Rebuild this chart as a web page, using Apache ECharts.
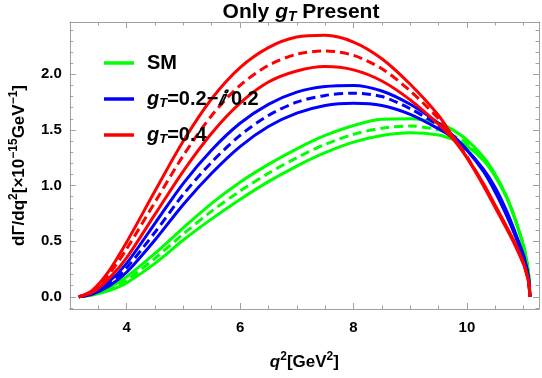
<!DOCTYPE html>
<html>
<head>
<meta charset="utf-8">
<title>Only gT Present</title>
<script src="https://cdn.jsdelivr.net/npm/echarts@6.0.0/dist/echarts.min.js"></script>
<style>
  html, body { margin: 0; padding: 0; background: #fff; }
  #chart { width: 542px; height: 378px; }
</style>
</head>
<body>
<div id="chart"></div>
<script>
// q^2 sample points (GeV^2)
const q2 = [3.157, 3.4, 3.7, 4.0, 4.5, 5.0, 5.5, 6.0, 6.5, 7.0, 7.5, 8.0, 8.5, 9.0, 9.5, 9.75, 10.0, 10.3, 10.5, 10.7, 10.85, 11.0, 11.06, 11.09, 11.11];

// SM band (green): upper, central (dashed), lower
const smUpper = [0, 0.022, 0.085, 0.18, 0.39, 0.62, 0.84, 1.03, 1.19, 1.33, 1.45, 1.54, 1.595, 1.60, 1.56, 1.50, 1.41, 1.25, 1.10, 0.90, 0.70, 0.45, 0.30, 0.19, 0];
const smMid   = [0, 0.019, 0.07, 0.15, 0.345, 0.565, 0.77, 0.95, 1.11, 1.25, 1.37, 1.46, 1.515, 1.535, 1.50, 1.45, 1.38, 1.235, 1.09, 0.895, 0.70, 0.45, 0.30, 0.19, 0];
const smLower = [0, 0.015, 0.057, 0.125, 0.30, 0.51, 0.70, 0.875, 1.035, 1.175, 1.295, 1.39, 1.45, 1.475, 1.455, 1.415, 1.355, 1.22, 1.08, 0.89, 0.69, 0.45, 0.30, 0.19, 0];

// gT = 0.2 - 0.2i (blue)
const cplxUpper = [0, 0.035, 0.14, 0.30, 0.66, 1.02, 1.32, 1.56, 1.73, 1.84, 1.89, 1.90, 1.85, 1.73, 1.56, 1.45, 1.32, 1.12, 0.94, 0.73, 0.55, 0.35, 0.24, 0.15, 0];
const cplxMid   = [0, 0.03, 0.12, 0.26, 0.58, 0.92, 1.21, 1.45, 1.63, 1.75, 1.81, 1.83, 1.80, 1.69, 1.54, 1.44, 1.32, 1.13, 0.95, 0.74, 0.56, 0.36, 0.24, 0.15, 0];
const cplxLower = [0, 0.025, 0.10, 0.22, 0.51, 0.83, 1.11, 1.35, 1.53, 1.65, 1.72, 1.74, 1.72, 1.64, 1.51, 1.43, 1.32, 1.14, 0.98, 0.77, 0.58, 0.37, 0.24, 0.15, 0];

// gT = 0.4 (red)
const realUpper = [0, 0.06, 0.24, 0.49, 0.95, 1.40, 1.78, 2.06, 2.24, 2.335, 2.35, 2.29, 2.14, 1.91, 1.63, 1.44, 1.25, 0.99, 0.80, 0.61, 0.46, 0.29, 0.19, 0.12, 0];
const realMid   = [0, 0.05, 0.21, 0.43, 0.85, 1.27, 1.63, 1.90, 2.08, 2.18, 2.21, 2.17, 2.05, 1.85, 1.60, 1.44, 1.26, 1.00, 0.81, 0.62, 0.47, 0.29, 0.19, 0.12, 0];
const realLower = [0, 0.04, 0.17, 0.35, 0.74, 1.13, 1.47, 1.74, 1.93, 2.03, 2.07, 2.04, 1.94, 1.77, 1.55, 1.42, 1.25, 1.01, 0.82, 0.63, 0.48, 0.30, 0.20, 0.12, 0];

// frame ticks
const xMajorTicks = [4, 6, 8, 10];
const xMinorTicks = [3, 3.5, 4.5, 5, 5.5, 6.5, 7, 7.5, 8.5, 9, 9.5, 10.5, 11];
const yMajorTicks = [0, 0.5, 1, 1.5, 2];
const yMinorTicks = [-0.1, 0.1, 0.2, 0.3, 0.4, 0.6, 0.7, 0.8, 0.9, 1.1, 1.2, 1.3, 1.4, 1.6, 1.7, 1.8, 1.9, 2.1, 2.2, 2.3, 2.4];

const FONT = 'Liberation Sans';
const FRAME = '#a0a0a0';
const X_MIN = 2.998, X_MAX = 11.27;
const Y_MIN = -0.11, Y_MAX = 2.47;

// rich styles for italic / sub / superscripts
const rich = {
  i: { fontFamily: FONT, fontWeight: 'bold', fontStyle: 'italic', fontSize: 20, lineHeight: 22, color: '#000' },
  s: { fontFamily: FONT, fontWeight: 'bold', fontStyle: 'italic', fontSize: 13, lineHeight: 13, verticalAlign: 'bottom', color: '#000' },
  p: { fontFamily: FONT, fontWeight: 'bold', fontSize: 12, lineHeight: 12, verticalAlign: 'top', color: '#000' },
  qi: { fontFamily: FONT, fontWeight: 'bold', fontStyle: 'italic', fontSize: 17, lineHeight: 22, color: '#000' },
  b: { fontFamily: FONT, fontWeight: 'bold', fontSize: 21, lineHeight: 24, color: '#000' },
  ti: { fontFamily: FONT, fontWeight: 'bold', fontStyle: 'italic', fontSize: 21, lineHeight: 24, color: '#000' },
  ts: { fontFamily: FONT, fontWeight: 'bold', fontStyle: 'italic', fontSize: 14, lineHeight: 14, verticalAlign: 'bottom', color: '#000' }
};

const legendText = {
  'SM': 'SM',
  'gT=0.2-0.2i': '{i|g}{s|T}=0.2\u2212{i|\u2148} 0.2',
  'gT=0.4': '{i|g}{s|T}=0.4'
};

function curve(name, ys, color, dashed) {
  return {
    name: name,
    type: 'line',
    xAxisIndex: 0,
    yAxisIndex: 0,
    data: q2.map((x, i) => [x, ys[i]]),
    showSymbol: false,
    smooth: 0.3,
    silent: true,
    itemStyle: { color: color },
    lineStyle: { color: color, width: 3, type: dashed ? [9, 5] : 'solid' }
  };
}

// frame axis: only ticks (+ optional labels/line)
function frameX(position, ticks, len, withLine, withLabel) {
  return {
    type: 'value', position: position, min: X_MIN, max: X_MAX,
    axisLine: { show: withLine, onZero: false, lineStyle: { color: FRAME, width: 1 } },
    axisTick: { show: true, inside: true, length: len, customValues: ticks, lineStyle: { color: FRAME, width: 1 } },
    axisLabel: withLabel ? {
      show: true, customValues: ticks, margin: 11,
      color: '#000', fontFamily: FONT, fontWeight: 'bold', fontSize: 15
    } : { show: false },
    splitLine: { show: false }
  };
}
function frameY(position, ticks, len, withLine, withLabel) {
  return {
    type: 'value', position: position, min: Y_MIN, max: Y_MAX,
    axisLine: { show: withLine, onZero: false, lineStyle: { color: FRAME, width: 1 } },
    axisTick: { show: true, inside: true, length: len, customValues: ticks, lineStyle: { color: FRAME, width: 1 } },
    axisLabel: withLabel ? {
      show: true, customValues: ticks, margin: 8,
      formatter: v => v.toFixed(1),
      color: '#000', fontFamily: FONT, fontWeight: 'bold', fontSize: 15
    } : { show: false },
    splitLine: { show: false }
  };
}

const xAxes = [
  frameX('bottom', xMajorTicks, 6, true, true),
  frameX('bottom', xMinorTicks, 3.5, false, false),
  frameX('top', xMajorTicks, 6, true, false),
  frameX('top', xMinorTicks, 3.5, false, false)
];
Object.assign(xAxes[0], {
  name: '{qi|q}{p|2}[GeV{p|2}]',
  nameLocation: 'middle',
  nameGap: 42,
  nameTextStyle: { fontFamily: FONT, fontWeight: 'bold', fontSize: 17, lineHeight: 22, color: '#000', rich: rich }
});

const yAxes = [
  frameY('left', yMajorTicks, 6, true, true),
  frameY('left', yMinorTicks, 3.5, false, false),
  frameY('right', yMajorTicks, 6, true, false),
  frameY('right', yMinorTicks, 3.5, false, false)
];
Object.assign(yAxes[0], {
  name: 'd\u0393/dq{p|2}[\u00d710{p|\u221215}GeV{p|\u22121}]',
  nameLocation: 'middle',
  nameGap: 31,
  nameTextStyle: { fontFamily: FONT, fontWeight: 'bold', fontSize: 17, lineHeight: 22, color: '#000', rich: rich }
});

const chart = echarts.init(document.getElementById('chart'), null, { renderer: 'canvas' });

const option = {
  backgroundColor: '#fff',
  animation: false,
  grid: { left: 63, right: 3, top: 22, bottom: 64, containLabel: false },
  graphic: [{
    type: 'text',
    x: 301, y: 12,
    style: {
      text: '{b|Only }{ti|g}{ts|T}{b| Present}',
      align: 'center', verticalAlign: 'middle',
      textAlign: 'center', textVerticalAlign: 'middle',
      rich: rich
    }
  }],
  legend: {
    data: ['SM', 'gT=0.2-0.2i', 'gT=0.4'],
    orient: 'vertical',
    left: 99,
    top: 47,
    icon: 'rect',
    itemWidth: 30,
    itemHeight: 3.5,
    itemGap: 14,
    selectedMode: false,
    formatter: name => legendText[name],
    textStyle: {
      fontFamily: FONT, fontWeight: 'bold', fontSize: 20, lineHeight: 22,
      color: '#000', padding: [0, 0, 0, 8], rich: rich
    }
  },
  xAxis: xAxes,
  yAxis: yAxes,
  series: [
    // green drawn first, red on top
    curve('SM', smUpper, '#00ff00', false),
    curve('SM', smMid, '#00ff00', true),
    curve('SM', smLower, '#00ff00', false),
    curve('gT=0.2-0.2i', cplxUpper, '#0000ff', false),
    curve('gT=0.2-0.2i', cplxMid, '#0000ff', true),
    curve('gT=0.2-0.2i', cplxLower, '#0000ff', false),
    curve('gT=0.4', realUpper, '#ff0000', false),
    curve('gT=0.4', realMid, '#ff0000', true),
    curve('gT=0.4', realLower, '#ff0000', false)
  ]
};

chart.setOption(option);
</script>
</body>
</html>
